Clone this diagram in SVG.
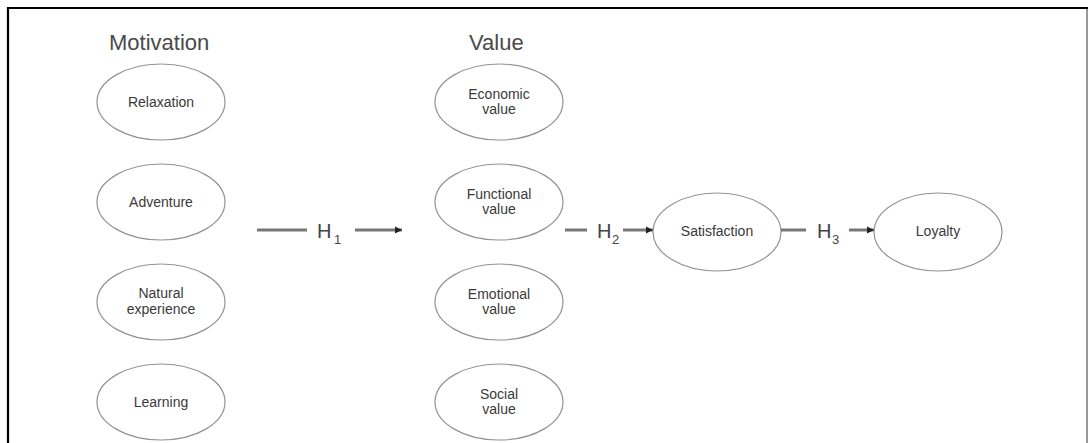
<svg xmlns="http://www.w3.org/2000/svg" width="1088" height="443" viewBox="0 0 1088 443">
<style>
.node ellipse{fill:#fff;stroke:#939393;stroke-width:1.2}
.lbl{font-family:"Liberation Sans",Arial,sans-serif;font-size:14px;fill:#3a3a3a;text-anchor:middle}
.title{font-family:"Liberation Sans",Arial,sans-serif;font-size:22px;fill:#4a4a4a}
.conn line{stroke:#777;stroke-width:3}
.h{font-family:"Liberation Sans",Arial,sans-serif;font-size:20px;fill:#444}
.sub{font-family:"Liberation Sans",Arial,sans-serif;font-size:13px;fill:#444}
</style>
<defs>
<marker id="ah" viewBox="0 0 10 10" refX="10" refY="5" markerWidth="2.4" markerHeight="2.4" orient="auto" markerUnits="strokeWidth">
<path d="M0,0 L10,5 L0,10 z" fill="#222"/>
</marker>
</defs>
<rect width="1088" height="443" fill="#fff"/>
<g id="frame">
<line x1="7" y1="8" x2="1088" y2="8" stroke="#000" stroke-width="2.2"/>
<line x1="8" y1="7" x2="8" y2="443" stroke="#000" stroke-width="2.2"/>
<line x1="1087" y1="9" x2="1087" y2="443" stroke="#777" stroke-width="1.5"/>
</g>
<text class="title" x="109" y="50">Motivation</text>
<text class="title" x="469" y="50">Value</text>
<g id="relaxation" class="node"><ellipse cx="161" cy="102" rx="64" ry="38"/><text class="lbl" x="161" y="107">Relaxation</text></g>
<g id="adventure" class="node"><ellipse cx="161" cy="202" rx="64" ry="38"/><text class="lbl" x="161" y="207">Adventure</text></g>
<g id="natural" class="node"><ellipse cx="161" cy="302" rx="64" ry="38"/><text class="lbl" x="161" y="298">Natural</text><text class="lbl" x="161" y="314">experience</text></g>
<g id="learning" class="node"><ellipse cx="161" cy="402" rx="64" ry="38"/><text class="lbl" x="161" y="407">Learning</text></g>
<g id="economic" class="node"><ellipse cx="499" cy="102" rx="64" ry="38"/><text class="lbl" x="499" y="99">Economic</text><text class="lbl" x="499" y="114">value</text></g>
<g id="functional" class="node"><ellipse cx="499" cy="202" rx="64" ry="38"/><text class="lbl" x="499" y="199">Functional</text><text class="lbl" x="499" y="214">value</text></g>
<g id="emotional" class="node"><ellipse cx="499" cy="302" rx="64" ry="38"/><text class="lbl" x="499" y="299">Emotional</text><text class="lbl" x="499" y="314">value</text></g>
<g id="social" class="node"><ellipse cx="499" cy="402" rx="64" ry="38"/><text class="lbl" x="499" y="399">Social</text><text class="lbl" x="499" y="414">value</text></g>
<g id="satisfaction" class="node"><ellipse cx="717" cy="232" rx="64" ry="39"/><text class="lbl" x="717" y="236">Satisfaction</text></g>
<g id="loyalty" class="node"><ellipse cx="938" cy="232" rx="64" ry="39"/><text class="lbl" x="938" y="236">Loyalty</text></g>
<g id="connectors" class="conn">
<line x1="257" y1="230" x2="307" y2="230"/>
<line x1="355" y1="230" x2="402" y2="230" marker-end="url(#ah)"/>
<text class="h" x="317" y="238">H</text><text class="sub" x="334" y="244">1</text>
<line x1="565" y1="230" x2="587" y2="230"/>
<line x1="623" y1="230" x2="653" y2="230" marker-end="url(#ah)"/>
<text class="h" x="597" y="238">H</text><text class="sub" x="612" y="244">2</text>
<line x1="781" y1="230" x2="806" y2="230"/>
<line x1="849" y1="230" x2="874" y2="230" marker-end="url(#ah)"/>
<text class="h" x="817" y="238">H</text><text class="sub" x="832" y="244">3</text>
</g>
</svg>
